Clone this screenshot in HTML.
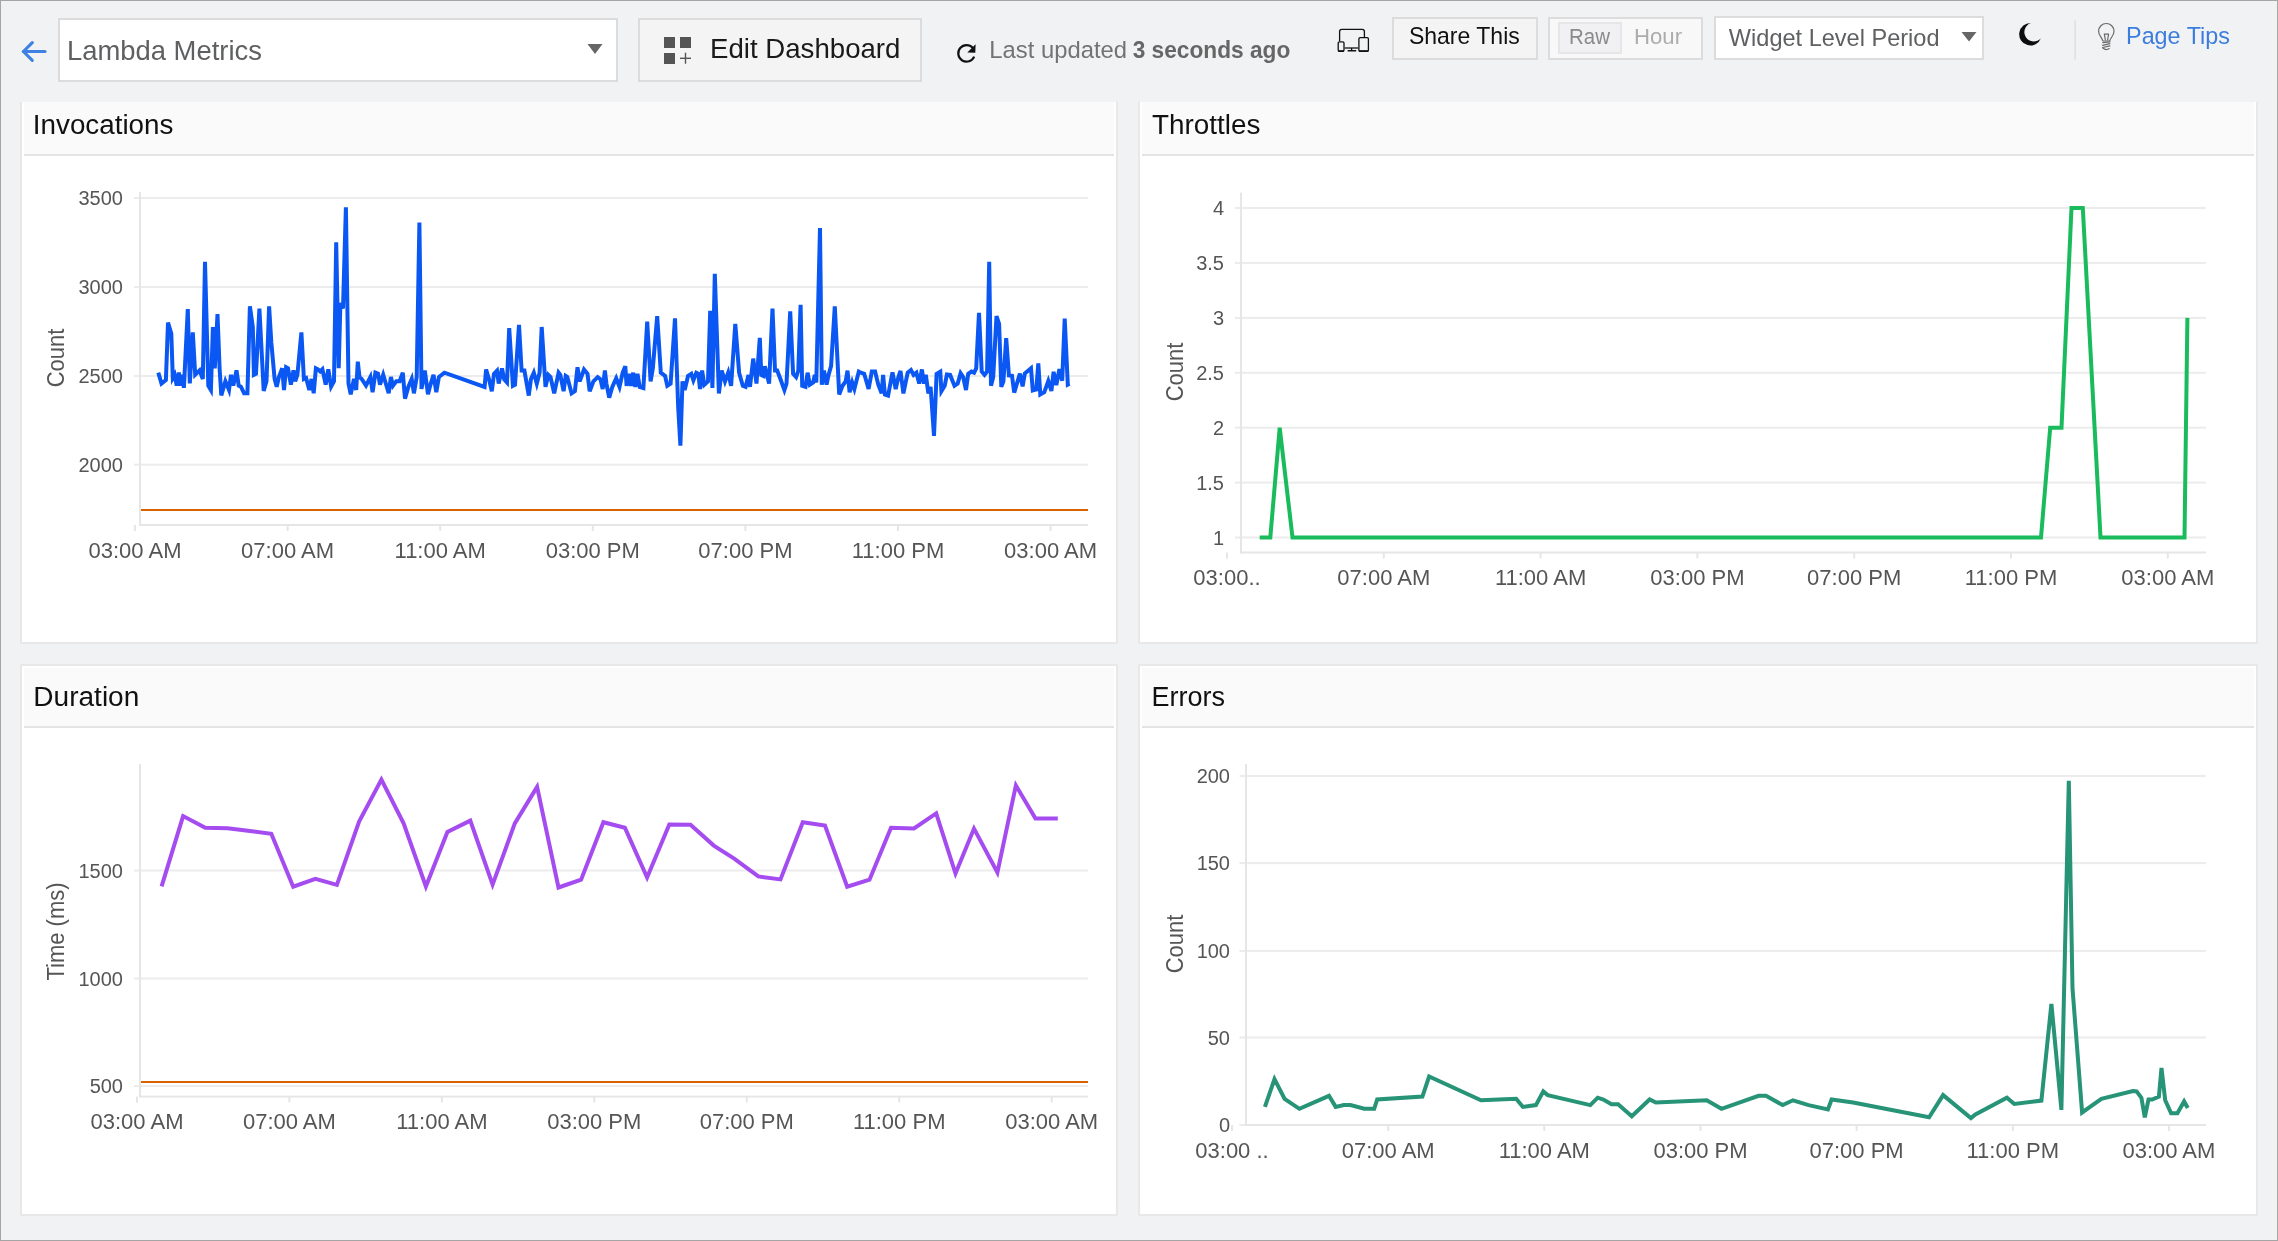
<!DOCTYPE html>
<html><head><meta charset="utf-8"><title>Lambda Metrics</title><style>
*{margin:0;padding:0;box-sizing:border-box}
html,body{width:2278px;height:1241px;overflow:hidden}
body{background:#f1f2f4;font-family:"Liberation Sans", sans-serif;position:relative}
#frame{position:absolute;left:0;top:0;width:2278px;height:1241px;border:1px solid #a5a5a5;z-index:5}
.box{position:absolute;border:2px solid #dcdcdc}
.panel{position:absolute;border:2px solid #e8e8e8;background:#fff;padding:2px}
.panel.top{border-top:none;padding-top:0}
.ph{background:#fafafa;border-bottom:2px solid #e4e4e4;height:60px}
.panel.top .ph{height:54px}
svg{position:absolute;left:0;top:0;z-index:3;will-change:transform}
svg text{font-family:"Liberation Sans", sans-serif}
.yl{font-size:20px;fill:#555}
.xl{font-size:22px;fill:#555}
.yt{font-size:22px;fill:#555}
</style></head><body>
<div id="frame"></div>
<div class="box" style="left:58px;top:18px;width:560px;height:64px;background:#fff"></div>
<div class="box" style="left:638px;top:18px;width:284px;height:64px;background:#f4f4f5"></div>
<div class="box" style="left:1392px;top:17px;width:146px;height:43px;background:#f4f4f5"></div>
<div class="box" style="left:1548px;top:17px;width:155px;height:43px;background:#f8f8f9"></div>
<div class="box" style="left:1558px;top:22px;width:64px;height:32px;background:#f1f1f3;border-color:#e6e6e8"></div>
<div class="box" style="left:1714px;top:16px;width:270px;height:44px;background:#fff"></div>

<div class="panel top" style="left:20px;top:102px;width:1098px;height:542px"><div class="ph"></div></div>
<div class="panel top" style="left:1138px;top:102px;width:1120px;height:542px"><div class="ph"></div></div>
<div class="panel" style="left:20px;top:664px;width:1098px;height:552px"><div class="ph"></div></div>
<div class="panel" style="left:1138px;top:664px;width:1120px;height:552px"><div class="ph"></div></div>

<svg width="2278" height="1241" viewBox="0 0 2278 1241">

<!-- back arrow -->
<g fill="none" stroke="#3f81e2" stroke-width="3.1" stroke-linecap="round" stroke-linejoin="round">
<polyline points="32.3,42.7 23.4,51.5 32.3,60.3"/><line x1="23.4" y1="51.5" x2="45" y2="51.5"/></g>
<!-- dropdown arrows -->
<polygon points="587.5,44 602.5,44 595,54" fill="#666"/>
<polygon points="1961.5,32 1976.5,32 1969,41.5" fill="#666"/>
<!-- edit dashboard icon -->
<g fill="#545454"><rect x="664" y="37" width="11" height="11"/><rect x="680" y="37" width="11" height="11"/><rect x="664" y="53" width="11" height="11"/>
<rect x="680" y="57.6" width="11" height="1.4"/><rect x="684.8" y="52.7" width="1.4" height="11"/></g>
<!-- refresh -->
<path d="M974.2,56.6 A8.3,8.3 0 1 1 972.8,47.9" fill="none" stroke="#111" stroke-width="2.2"/>
<polygon points="975.6,44.2 975.3,52.7 967.3,52.6" fill="#111"/>
<!-- devices -->
<g fill="none" stroke="#111" stroke-width="1.3">
<path d="M1339.6,41.2 V31.6 a2.2,2.2 0 0 1 2.2,-2.2 H1362.2 a2.2,2.2 0 0 1 2.2,2.2 V37"/>
<line x1="1344.6" y1="48" x2="1358.3" y2="48"/>
<rect x="1338.2" y="41.9" width="5.8" height="9.4" rx="1.2"/>
<rect x="1358.9" y="37.6" width="9.5" height="13.7" rx="1.2"/>
<line x1="1351.6" y1="48" x2="1351.6" y2="50.6"/><line x1="1348.2" y1="50.8" x2="1355.6" y2="50.8" stroke-width="1.6" stroke-linecap="round"/>
</g>
<rect x="1338.2" y="50.2" width="5.8" height="1.6" fill="#111"/>
<rect x="1358.9" y="50.2" width="9.5" height="1.6" fill="#111"/>
<!-- moon -->
<path d="M2031,23.1 A11.2,11.2 0 1 0 2040.9,38.2 A9.4,9.4 0 1 1 2031,23.1 Z" fill="#0d0d0d"/>
<!-- separator -->
<rect x="2074.5" y="20.5" width="1.2" height="39" fill="#dadada"/>
<!-- bulb -->
<g fill="none" stroke="#6a6a6a" stroke-width="1.2" stroke-linecap="round">
<path d="M2102.9,41 C2102.3,37.8 2098.6,36 2098.6,31.2 A7.7,7.7 0 1 1 2114,31.2 C2114,36 2110.4,37.8 2109.7,41 Z"/>
<path d="M2104.3,34.2 L2105.4,40 M2108.6,34.2 L2107.6,40 M2104.3,34.2 H2108.6"/>
<path d="M2102.9,42.6 L2109.9,41.8 M2102.6,45.3 L2109.9,43.6 M2102.6,47.5 L2109.9,45.8 M2102.6,47.7 Q2106,51 2109.2,48.6"/>
</g>

<text x="66.96" y="60.4" font-size="28.05" textLength="195.00" lengthAdjust="spacingAndGlyphs" fill="#5f6062">Lambda Metrics</text>
<text x="710.05" y="57.7" font-size="26.89" textLength="190.39" lengthAdjust="spacingAndGlyphs" fill="#1a1a1a">Edit Dashboard</text>
<text x="989.30" y="58.1" font-size="23.69" textLength="137.70" lengthAdjust="spacingAndGlyphs" fill="#737373">Last updated</text>
<text x="1132.71" y="58.1" font-size="23.69" textLength="157.59" lengthAdjust="spacingAndGlyphs" fill="#666" font-weight="bold">3 seconds ago</text>
<text x="1408.91" y="44.2" font-size="24.27" textLength="110.88" lengthAdjust="spacingAndGlyphs" fill="#111">Share This</text>
<text x="1569.06" y="44.2" font-size="21.80" textLength="40.85" lengthAdjust="spacingAndGlyphs" fill="#8a8a8a">Raw</text>
<text x="1634.06" y="44.2" font-size="21.80" textLength="48.03" lengthAdjust="spacingAndGlyphs" fill="#acacac">Hour</text>
<text x="1728.88" y="45.8" font-size="23.26" textLength="210.62" lengthAdjust="spacingAndGlyphs" fill="#5f6062">Widget Level Period</text>
<text x="2126.09" y="44.1" font-size="23.84" textLength="103.80" lengthAdjust="spacingAndGlyphs" fill="#3b7ddd">Page Tips</text>
<text x="32.80" y="134.1" font-size="27.76" textLength="140.63" lengthAdjust="spacingAndGlyphs" fill="#111">Invocations</text>
<text x="1152.05" y="134.1" font-size="27.62" textLength="108.33" lengthAdjust="spacingAndGlyphs" fill="#111">Throttles</text>
<text x="33.38" y="706" font-size="27.76" textLength="105.92" lengthAdjust="spacingAndGlyphs" fill="#111">Duration</text>
<text x="1151.48" y="706" font-size="27.76" textLength="73.46" lengthAdjust="spacingAndGlyphs" fill="#111">Errors</text>
<rect x="134" y="197" width="954" height="2" fill="#ececec"/>
<rect x="134" y="286" width="954" height="2" fill="#ececec"/>
<rect x="134" y="375" width="954" height="2" fill="#ececec"/>
<rect x="134" y="463.7" width="954" height="2" fill="#ececec"/>
<rect x="139" y="192" width="2" height="334" fill="#e6e6e6"/>
<rect x="139" y="524" width="949" height="2" fill="#e6e6e6"/>
<rect x="134.0" y="525" width="2" height="6" fill="#e6e6e6"/>
<rect x="286.6" y="525" width="2" height="6" fill="#e6e6e6"/>
<rect x="439.2" y="525" width="2" height="6" fill="#e6e6e6"/>
<rect x="591.8" y="525" width="2" height="6" fill="#e6e6e6"/>
<rect x="744.4" y="525" width="2" height="6" fill="#e6e6e6"/>
<rect x="897.0" y="525" width="2" height="6" fill="#e6e6e6"/>
<rect x="1049.6" y="525" width="2" height="6" fill="#e6e6e6"/>
<text x="123" y="205.2" text-anchor="end" class="yl">3500</text>
<text x="123" y="294.2" text-anchor="end" class="yl">3000</text>
<text x="123" y="383.2" text-anchor="end" class="yl">2500</text>
<text x="123" y="471.9" text-anchor="end" class="yl">2000</text>
<text x="135.0" y="557.5" text-anchor="middle" class="xl">03:00 AM</text>
<text x="287.6" y="557.5" text-anchor="middle" class="xl">07:00 AM</text>
<text x="440.2" y="557.5" text-anchor="middle" class="xl">11:00 AM</text>
<text x="592.8" y="557.5" text-anchor="middle" class="xl">03:00 PM</text>
<text x="745.4" y="557.5" text-anchor="middle" class="xl">07:00 PM</text>
<text x="898.0" y="557.5" text-anchor="middle" class="xl">11:00 PM</text>
<text x="1050.6" y="557.5" text-anchor="middle" class="xl">03:00 AM</text>
<text transform="translate(64.3,358) rotate(-90) scale(1,1.1)" text-anchor="middle" class="yt">Count</text>
<rect x="1235" y="207" width="971" height="2" fill="#ececec"/>
<rect x="1235" y="261.9" width="971" height="2" fill="#ececec"/>
<rect x="1235" y="316.9" width="971" height="2" fill="#ececec"/>
<rect x="1235" y="371.8" width="971" height="2" fill="#ececec"/>
<rect x="1235" y="426.7" width="971" height="2" fill="#ececec"/>
<rect x="1235" y="481.6" width="971" height="2" fill="#ececec"/>
<rect x="1235" y="536.5" width="971" height="2" fill="#ececec"/>
<rect x="1240" y="192.6" width="2" height="360.9" fill="#e6e6e6"/>
<rect x="1240" y="551.5" width="966" height="2" fill="#e6e6e6"/>
<rect x="1226.0" y="552.5" width="2" height="6" fill="#e6e6e6"/>
<rect x="1382.8" y="552.5" width="2" height="6" fill="#e6e6e6"/>
<rect x="1539.6" y="552.5" width="2" height="6" fill="#e6e6e6"/>
<rect x="1696.4" y="552.5" width="2" height="6" fill="#e6e6e6"/>
<rect x="1853.2" y="552.5" width="2" height="6" fill="#e6e6e6"/>
<rect x="2010.0" y="552.5" width="2" height="6" fill="#e6e6e6"/>
<rect x="2166.8" y="552.5" width="2" height="6" fill="#e6e6e6"/>
<text x="1224" y="215.2" text-anchor="end" class="yl">4</text>
<text x="1224" y="270.1" text-anchor="end" class="yl">3.5</text>
<text x="1224" y="325.1" text-anchor="end" class="yl">3</text>
<text x="1224" y="380.0" text-anchor="end" class="yl">2.5</text>
<text x="1224" y="434.9" text-anchor="end" class="yl">2</text>
<text x="1224" y="489.8" text-anchor="end" class="yl">1.5</text>
<text x="1224" y="544.7" text-anchor="end" class="yl">1</text>
<text x="1227.0" y="585" text-anchor="middle" class="xl">03:00..</text>
<text x="1383.8" y="585" text-anchor="middle" class="xl">07:00 AM</text>
<text x="1540.6" y="585" text-anchor="middle" class="xl">11:00 AM</text>
<text x="1697.4" y="585" text-anchor="middle" class="xl">03:00 PM</text>
<text x="1854.2" y="585" text-anchor="middle" class="xl">07:00 PM</text>
<text x="2011.0" y="585" text-anchor="middle" class="xl">11:00 PM</text>
<text x="2167.8" y="585" text-anchor="middle" class="xl">03:00 AM</text>
<text transform="translate(1183.2,372) rotate(-90) scale(1,1.1)" text-anchor="middle" class="yt">Count</text>
<rect x="134" y="869.5" width="954" height="2" fill="#ececec"/>
<rect x="134" y="977.5" width="954" height="2" fill="#ececec"/>
<rect x="134" y="1085" width="954" height="2" fill="#ececec"/>
<rect x="139" y="764" width="2" height="333.5999999999999" fill="#e6e6e6"/>
<rect x="139" y="1095.6" width="949" height="2" fill="#e6e6e6"/>
<rect x="136.0" y="1096.6" width="2" height="6" fill="#e6e6e6"/>
<rect x="288.4" y="1096.6" width="2" height="6" fill="#e6e6e6"/>
<rect x="440.9" y="1096.6" width="2" height="6" fill="#e6e6e6"/>
<rect x="593.3" y="1096.6" width="2" height="6" fill="#e6e6e6"/>
<rect x="745.8" y="1096.6" width="2" height="6" fill="#e6e6e6"/>
<rect x="898.2" y="1096.6" width="2" height="6" fill="#e6e6e6"/>
<rect x="1050.7" y="1096.6" width="2" height="6" fill="#e6e6e6"/>
<text x="123" y="877.7" text-anchor="end" class="yl">1500</text>
<text x="123" y="985.7" text-anchor="end" class="yl">1000</text>
<text x="123" y="1093.2" text-anchor="end" class="yl">500</text>
<text x="137.0" y="1129" text-anchor="middle" class="xl">03:00 AM</text>
<text x="289.4" y="1129" text-anchor="middle" class="xl">07:00 AM</text>
<text x="441.9" y="1129" text-anchor="middle" class="xl">11:00 AM</text>
<text x="594.3" y="1129" text-anchor="middle" class="xl">03:00 PM</text>
<text x="746.8" y="1129" text-anchor="middle" class="xl">07:00 PM</text>
<text x="899.2" y="1129" text-anchor="middle" class="xl">11:00 PM</text>
<text x="1051.7" y="1129" text-anchor="middle" class="xl">03:00 AM</text>
<text transform="translate(64,931.5) rotate(-90) scale(1,1.1)" text-anchor="middle" class="yt">Time (ms)</text>
<rect x="1239.5" y="775" width="966.5" height="2" fill="#ececec"/>
<rect x="1239.5" y="862.1" width="966.5" height="2" fill="#ececec"/>
<rect x="1239.5" y="949.9" width="966.5" height="2" fill="#ececec"/>
<rect x="1239.5" y="1036.5" width="966.5" height="2" fill="#ececec"/>
<rect x="1239.5" y="1124" width="966.5" height="2" fill="#ececec"/>
<rect x="1245" y="764" width="2" height="362" fill="#e6e6e6"/>
<rect x="1245" y="1124" width="961" height="2" fill="#e6e6e6"/>
<rect x="1231.0" y="1125" width="2" height="6" fill="#e6e6e6"/>
<rect x="1387.2" y="1125" width="2" height="6" fill="#e6e6e6"/>
<rect x="1543.3" y="1125" width="2" height="6" fill="#e6e6e6"/>
<rect x="1699.5" y="1125" width="2" height="6" fill="#e6e6e6"/>
<rect x="1855.6" y="1125" width="2" height="6" fill="#e6e6e6"/>
<rect x="2011.8" y="1125" width="2" height="6" fill="#e6e6e6"/>
<rect x="2167.9" y="1125" width="2" height="6" fill="#e6e6e6"/>
<text x="1230" y="783.2" text-anchor="end" class="yl">200</text>
<text x="1230" y="870.3" text-anchor="end" class="yl">150</text>
<text x="1230" y="958.1" text-anchor="end" class="yl">100</text>
<text x="1230" y="1044.7" text-anchor="end" class="yl">50</text>
<text x="1230" y="1132.2" text-anchor="end" class="yl">0</text>
<text x="1232.0" y="1157.5" text-anchor="middle" class="xl">03:00 ..</text>
<text x="1388.2" y="1157.5" text-anchor="middle" class="xl">07:00 AM</text>
<text x="1544.3" y="1157.5" text-anchor="middle" class="xl">11:00 AM</text>
<text x="1700.5" y="1157.5" text-anchor="middle" class="xl">03:00 PM</text>
<text x="1856.6" y="1157.5" text-anchor="middle" class="xl">07:00 PM</text>
<text x="2012.8" y="1157.5" text-anchor="middle" class="xl">11:00 PM</text>
<text x="2168.9" y="1157.5" text-anchor="middle" class="xl">03:00 AM</text>
<text transform="translate(1183.2,944) rotate(-90) scale(1,1.1)" text-anchor="middle" class="yt">Count</text>

<polyline points="141,510 1088,510" fill="none" stroke="#d96200" stroke-width="2"/>
<polyline points="141,1082 1088,1082" fill="none" stroke="#d96200" stroke-width="2"/>
<polyline points="158.3,372.6 161.5,383.5 165.9,380.0 168.0,322.6 171.3,333.5 172.8,378.0 174.6,374.8 176.7,385.6 178.9,372.6 180.4,385.6 182.2,374.8 183.9,387.8 187.8,309.0 189.8,383.5 192.8,332.4 195.2,374.8 199.6,370.4 202.8,379.0 205.0,261.7 208.3,385.6 210.9,390.0 212.9,327.0 214.8,368.3 217.5,314.0 219.6,368.3 221.3,395.4 225.4,381.3 229.0,390.0 231.0,374.8 233.3,385.6 236.5,370.4 238.7,385.6 240.9,386.7 244.1,393.3 247.4,393.3 249.9,306.3 252.8,327.0 253.9,374.8 256.0,373.7 259.4,308.5 263.7,391.0 266.5,381.3 269.1,306.3 271.3,342.2 274.6,379.0 276.7,386.7 278.9,377.0 282.2,368.3 284.0,390.0 286.1,367.2 288.0,368.3 290.9,384.6 293.5,370.4 295.2,381.3 297.4,374.8 301.4,332.4 303.9,379.0 306.1,378.0 309.3,390.0 311.5,379.0 313.7,393.3 315.9,368.3 318.0,369.3 320.2,371.5 322.4,369.3 325.7,384.6 328.3,369.3 331.1,386.7 334.0,381.3 336.2,242.2 338.7,368.3 340.4,303.0 343.0,308.5 345.9,207.4 348.5,383.5 350.7,394.3 354.0,379.0 356.2,390.0 357.8,361.7 359.5,377.0 361.7,379.0 366.0,385.6 370.4,377.0 372.6,392.2 375.4,372.6 378.0,373.7 380.0,384.6 383.2,374.8 388.7,393.3 390.9,377.0 393.0,385.6 396.3,381.3 399.6,381.3 402.8,372.6 405.0,398.7 408.4,386.7 411.7,379.0 413.9,393.3 416.7,377.0 419.4,222.6 421.5,389.0 424.8,370.4 428.0,394.3 430.2,385.6 433.5,374.8 436.3,392.2 438.9,377.0 444.4,372.7 484.6,386.9 486.1,369.5 489.0,379.3 491.8,391.2 494.0,373.8 497.0,370.6 498.7,383.6 502.0,368.4 504.2,379.3 507.0,382.5 509.2,328.1 512.9,385.8 515.0,384.7 519.0,324.9 521.6,370.6 524.4,370.6 528.8,395.6 530.9,379.3 533.8,372.7 536.8,383.6 539.6,372.7 541.7,327.0 545.5,386.9 548.3,374.9 550.5,377.1 554.2,393.4 558.6,372.7 560.3,374.9 563.6,391.2 565.7,376.0 567.3,377.1 571.6,393.4 574.9,391.2 577.5,367.3 579.7,381.4 584.0,369.5 587.5,373.8 589.7,391.2 593.4,381.4 597.7,377.1 600.5,379.3 602.7,389.0 604.9,370.6 606.4,383.6 609.2,397.7 612.3,386.9 616.2,378.2 619.5,386.9 622.7,372.7 625.3,366.2 626.6,385.8 628.8,373.8 631.0,385.8 633.2,372.7 635.3,386.9 637.5,373.8 639.7,386.9 643.4,388.0 647.2,321.6 650.6,381.4 652.8,368.4 657.2,316.2 660.8,372.7 665.1,376.0 667.3,385.8 670.6,383.6 675.0,318.3 678.2,407.5 680.4,445.6 682.5,381.4 684.7,390.1 688.0,376.0 691.3,373.8 693.4,380.3 696.3,372.7 698.4,373.8 700.0,389.0 702.1,370.6 704.3,384.7 708.0,381.4 710.2,310.7 712.4,388.0 714.8,273.7 718.9,393.4 721.7,370.6 725.0,381.4 728.2,372.7 731.1,385.8 735.3,323.8 739.1,372.7 742.8,385.8 745.6,386.9 748.5,374.9 750.0,386.9 753.2,358.6 756.5,383.6 759.8,337.9 761.3,374.9 763.5,376.0 764.8,366.2 769.1,383.6 772.5,308.6 775.0,370.6 777.2,370.6 780.5,379.3 784.4,390.1 786.5,383.6 790.2,311.4 793.1,373.8 796.1,377.1 798.3,370.6 800.6,304.9 802.2,385.8 805.5,386.9 807.6,372.7 809.8,384.7 813.1,382.5 814.8,374.9 816.3,382.5 820.0,228.1 821.8,384.7 824.0,370.6 826.6,384.7 828.3,376.0 831.1,365.8 834.8,306.4 839.2,394.5 842.5,385.8 845.7,381.4 847.5,370.6 849.6,392.3 852.2,382.5 854.4,389.0 858.8,371.6 860.9,372.7 864.2,373.8 868.6,389.0 871.8,371.6 875.1,371.6 878.3,384.7 881.6,393.4 883.1,374.9 884.9,394.5 888.1,395.6 892.5,372.3 895.7,389.0 898.4,377.1 900.5,371.0 903.4,393.4 907.7,372.7 911.0,370.1 913.6,374.9 916.4,372.7 919.2,383.6 921.9,369.5 924.0,383.6 925.8,374.9 928.4,393.4 930.6,386.9 934.0,435.8 936.6,373.8 940.3,371.6 941.4,391.2 944.7,385.8 946.9,374.5 950.1,374.9 954.5,385.8 957.7,383.6 960.6,373.2 963.2,377.1 966.0,390.1 968.2,373.8 971.4,371.6 974.1,372.7 976.2,368.4 979.0,312.9 981.7,371.6 984.5,374.9 987.1,371.6 989.2,261.8 991.0,385.8 993.2,377.1 996.5,316.2 999.1,323.8 1001.3,386.9 1003.4,381.4 1006.2,338.1 1008.9,375.4 1012.0,375.8 1014.2,392.6 1019.9,373.6 1022.6,386.4 1024.8,373.6 1031.0,368.3 1032.8,390.4 1036.3,389.5 1038.3,363.4 1040.3,394.4 1044.3,392.2 1048.3,381.1 1051.4,390.9 1053.6,371.8 1056.3,385.1 1059.4,369.1 1062.2,380.7 1064.7,318.6 1067.8,384.7 1069.6,383.8" fill="none" stroke="#0b57f3" stroke-width="4"/>
<polyline points="1259.7,537.5 1270.3,537.5 1279.7,427.7 1292.5,537.5 2041.0,537.5 2050.2,427.7 2061.5,427.7 2071.5,208.0 2082.8,208.0 2100.5,537.5 2184.5,537.5 2187.4,317.9" fill="none" stroke="#19bb5c" stroke-width="4"/>
<polyline points="161.6,886.4 183.1,816.1 205.3,827.8 227.6,828.2 248.0,830.8 271.3,833.8 293.2,886.7 315.4,878.8 336.9,884.9 359.1,821.5 381.4,779.5 403.6,823.4 425.9,886.5 447.4,831.9 470.3,820.6 492.6,884.6 514.8,823.4 537.1,786.9 558.5,887.5 581.1,879.7 603.4,822.2 624.9,827.8 647.1,877.5 669.3,824.5 690.5,824.7 713.8,845.6 734.2,858.6 758.3,876.4 780.5,879.4 802.8,822.2 825.0,825.6 847.2,886.7 869.5,879.7 891.0,827.7 914.0,828.4 936.2,813.3 955.5,873.5 974.0,828.6 997.4,872.4 1015.9,785.4 1035.5,818.4 1057.8,818.6" fill="none" stroke="#a54cf0" stroke-width="4"/>
<polyline points="1264.9,1106.9 1274.5,1079.1 1284.6,1098.8 1299.4,1108.8 1329.0,1095.8 1335.7,1106.9 1343.9,1105.1 1350.5,1105.1 1364.2,1108.8 1374.2,1108.8 1377.2,1099.5 1422.4,1096.6 1429.1,1076.5 1481.0,1100.3 1516.2,1098.8 1522.9,1106.9 1535.9,1105.1 1543.3,1091.4 1547.7,1095.1 1590.3,1105.1 1597.7,1097.7 1603.3,1099.5 1611.5,1104.3 1618.1,1104.3 1631.8,1116.2 1649.6,1099.5 1655.9,1102.5 1706.7,1100.3 1721.5,1108.8 1758.6,1095.8 1766.0,1095.8 1782.7,1105.1 1793.0,1100.3 1808.6,1105.1 1827.9,1109.5 1831.6,1099.5 1853.1,1102.5 1929.1,1117.3 1943.1,1095.1 1970.9,1118.1 1975.4,1114.4 2006.9,1097.7 2014.3,1104.0 2041.4,1100.6 2051.4,1003.9 2061.4,1109.9 2068.8,780.8 2072.5,988.3 2082.1,1112.5 2101.4,1098.8 2132.9,1091.0 2136.6,1091.4 2141.4,1097.7 2144.8,1117.3 2148.5,1099.5 2152.2,1099.5 2158.9,1096.6 2161.5,1068.0 2165.2,1100.3 2171.1,1113.2 2177.4,1113.2 2184.1,1101.4 2187.8,1108.0" fill="none" stroke="#279377" stroke-width="4"/>

</svg>
</body></html>
